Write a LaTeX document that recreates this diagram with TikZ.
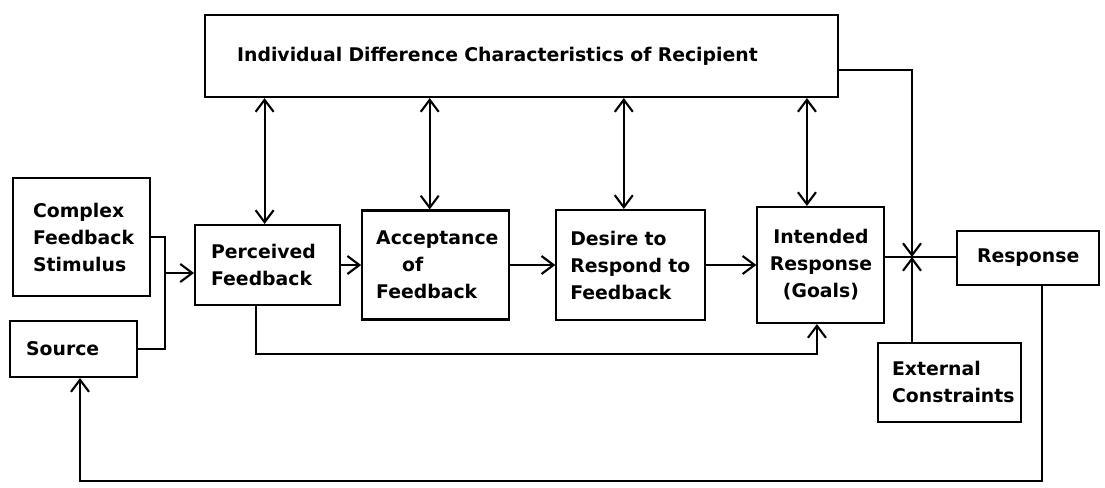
\documentclass[tikz,border=0pt]{standalone}
\usepackage{fontspec}
\setmainfont{DejaVu Sans}
\usetikzlibrary{arrows.meta,positioning}

\begin{document}
\begin{tikzpicture}[
    node distance=0.5cm,
    every node/.style={font=\fontsize{13.4}{19.2}\selectfont\bfseries},
    box/.style={draw, line width=1.5pt, align=left, inner xsep=0.4cm, inner ysep=0pt},
    link/.style={line width=1.5pt},
    flow/.style={-{Straight Barb[length=3mm,width=4.5mm]}, line width=1.5pt},
    both/.style={{Straight Barb[length=3mm,width=4.5mm]}-{Straight Barb[length=3mm,width=4.5mm]}, line width=1.5pt}
]
\useasboundingbox (0,0) rectangle (27.625,-12.175);
\node[box, inner xsep=0.8cm, text width=14.225cm, minimum height=2.05cm] (recipient) at (13.04,-1.4) {Individual Difference Characteristics of Recipient};
\node[box, inner xsep=0.5cm, text width=2.425cm, minimum height=2.95cm] (stimulus) at (2.04,-5.925) {Complex\\Feedback\\Stimulus};
\node[box, text width=2.375cm, minimum height=1.4cm] (source) at (1.84,-8.725) {Source};
\node[box, text width=2.825cm, minimum height=2.0cm] (perceived) at (6.69,-6.625) {Perceived\\Feedback};
\node[box, inner xsep=0.35cm, text width=2.975cm, minimum height=2.725cm, right=0.5cm of perceived] (acceptance) {Acceptance\\\hspace*{0.65cm}of\\Feedback};
\node[box, inner xsep=0.35cm, text width=3.025cm, minimum height=2.75cm, right=1.125cm of acceptance] (desire) {Desire to\\Respond to\\Feedback};
\node[box, align=center, inner xsep=0.3cm, text width=2.575cm, minimum height=2.9cm, right=1.25cm of desire] (intended) {Intended\\Response\\(Goals)};
\node[box, inner xsep=0.5cm, text width=2.55cm, minimum height=1.35cm] (response) at (25.7,-6.45) {Response};
\node[box, inner xsep=0.35cm, text width=2.875cm, minimum height=1.975cm] (external) at (23.74,-9.56) {External\\Constraints};
\coordinate (fork) at (4.125,-6.825);
\coordinate (junction) at (22.8,-6.425);
% inputs
\draw[link] (stimulus.east) -| (fork) |- (source.east);
\draw[flow] (fork) -- (fork -| perceived.west);
% main chain
\draw[flow] (perceived) -- (acceptance);
\draw[flow] (acceptance) -- (desire);
\draw[flow] (desire) -- (intended);
\draw[link] (junction -| intended.east) -- (junction -| response.west);
% recipient characteristics
\foreach \n/\dx in {perceived/-0.075,acceptance/-0.15,desire/-0.175,intended/-0.35}
    \draw[both] ([xshift=\dx cm]\n.north |- recipient.south) -- ([xshift=\dx cm]\n.north);
\draw[flow] ([yshift=-0.35cm]recipient.east) -| (junction);
\draw[flow] (external.north -| junction) -- (junction);
% feedback loops
\draw[flow] ([xshift=-0.3cm]perceived.south) -- ++(0,-1.2) -| ([xshift=-0.1cm]intended.south);
\draw[flow] ([xshift=0.35cm]response.south) -- ++(0,-4.875) -| ([xshift=0.16cm]source.south);
\end{tikzpicture}
\end{document}
